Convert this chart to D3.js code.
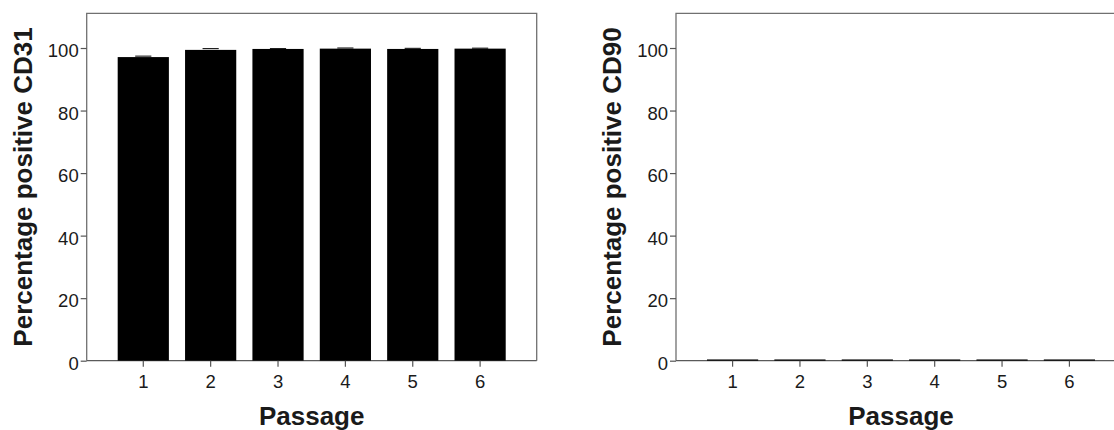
<!DOCTYPE html>
<html>
<head>
<meta charset="utf-8">
<script src="https://cdn.jsdelivr.net/npm/d3@7"></script>
<style>
  html, body { margin: 0; padding: 0; background: #fff; }
  svg { display: block; }
  text { font-family: "Liberation Sans", Arial, sans-serif; fill: #1a1a1a; }
</style>
</head>
<body>
<svg id="chart" width="1114" height="430"></svg>
<script>
// Passage numbers shared by both panels
const passages = ["1", "2", "3", "4", "5", "6"];

// Mean percentage of CD31-positive cells and its standard error
const cd31Values = [97.1, 99.4, 99.7, 99.8, 99.7, 99.8];
const cd31Errors = [0.3, 0.4, 0.1, 0.2, 0.2, 0.15];

// Mean percentage of CD90-positive cells and its standard error
const cd90Values = [0.4, 0.4, 0.4, 0.4, 0.4, 0.4];
const cd90Errors = [0, 0, 0, 0, 0, 0];

// Y-axis tick values
const yTicks = [0, 20, 40, 60, 80, 100];

const svg = d3.select("#chart");
svg.append("rect").attr("width", 1114).attr("height", 430).attr("fill", "#fff");

// Plot frame geometry (per panel)
const frame = { left: 86.7, right: 536.7, top: 13.3, bottom: 360.7 };
const yMax = 111.1;

function drawPanel(offsetX, values, errors, yLabel) {
  const g = svg.append("g").attr("transform", `translate(${offsetX},0)`);

  const x = d3.scaleBand()
    .domain(passages)
    .range([frame.left, frame.right])
    .paddingInner(0.24)
    .paddingOuter(0.46);

  const y = d3.scaleLinear()
    .domain([0, yMax])
    .range([frame.bottom, frame.top]);

  // Frame (top, right, left)
  g.append("path")
    .attr("d", `M${frame.left},${frame.bottom} V${frame.top} H${frame.right} V${frame.bottom}`)
    .attr("fill", "none")
    .attr("stroke", "#707070")
    .attr("stroke-width", 1.3);

  // Baseline
  g.append("line")
    .attr("x1", frame.left).attr("x2", frame.right)
    .attr("y1", y(0)).attr("y2", y(0))
    .attr("stroke", "#5a5a5a")
    .attr("stroke-width", 1.3);

  // Bars
  g.selectAll("rect.bar")
    .data(values)
    .join("rect")
    .attr("class", "bar")
    .attr("x", (d, i) => x(passages[i]))
    .attr("width", x.bandwidth())
    .attr("y", d => y(d))
    .attr("height", d => y(0) - y(d))
    .attr("fill", "#000");

  // Error bar caps
  const capW = x.step() * 0.24;
  g.selectAll("line.cap")
    .data(values)
    .join("line")
    .attr("class", "cap")
    .filter((d, i) => errors[i] > 0)
    .attr("x1", (d, i) => x(passages[i]) + x.bandwidth() / 2 - capW / 2)
    .attr("x2", (d, i) => x(passages[i]) + x.bandwidth() / 2 + capW / 2)
    .attr("y1", (d, i) => y(d + errors[i]))
    .attr("y2", (d, i) => y(d + errors[i]))
    .attr("stroke", "#000")
    .attr("stroke-width", 1);

  // Y axis ticks and labels
  const yAxis = d3.axisLeft(y).tickValues(yTicks).tickSize(6).tickPadding(2).tickFormat(d3.format("d"));
  const ya = g.append("g").attr("transform", `translate(${frame.left},0)`).call(yAxis);
  ya.select(".domain").remove();
  ya.selectAll(".tick line").attr("stroke", "#555").attr("stroke-width", 1.2);
  ya.selectAll(".tick text")
    .attr("font-size", 18.5)
    .attr("fill", "#1a1a1a")
    .attr("dy", "0.46em");

  // X axis ticks and labels
  const xAxis = d3.axisBottom(x).tickSize(6).tickPadding(8);
  const xa = g.append("g").attr("transform", `translate(0,${y(0)})`).call(xAxis);
  xa.select(".domain").remove();
  xa.selectAll(".tick line").attr("stroke", "#555").attr("stroke-width", 1.2);
  xa.selectAll(".tick text")
    .attr("font-size", 18.5)
    .attr("fill", "#1a1a1a");

  // Axis titles
  const cx = (frame.left + frame.right) / 2;
  g.append("text")
    .attr("x", cx)
    .attr("y", 425)
    .attr("text-anchor", "middle")
    .attr("font-size", 26)
    .attr("font-weight", "bold")
    .attr("fill", "#111")
    .text("Passage");

  const cy = (frame.top + frame.bottom) / 2;
  g.append("text")
    .attr("transform", `translate(32,${cy}) rotate(-90)`)
    .attr("text-anchor", "middle")
    .attr("font-size", 26)
    .attr("font-weight", "bold")
    .attr("fill", "#111")
    .text(yLabel);
}

drawPanel(0, cd31Values, cd31Errors, "Percentage positive CD31");
drawPanel(589.3, cd90Values, cd90Errors, "Percentage positive CD90");
</script>
</body>
</html>
